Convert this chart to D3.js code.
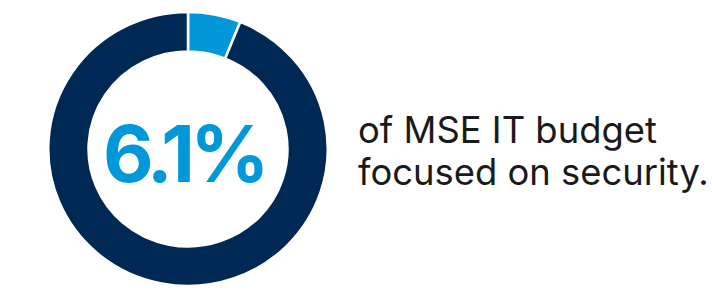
<!DOCTYPE html>
<html>
<head>
<meta charset="utf-8">
<script src="https://cdn.jsdelivr.net/npm/d3@7"></script>
<style>
html,body{margin:0;padding:0;background:#fff;}
svg{display:block;}
</style>
</head>
<body>
<svg id="chart" width="712" height="300"></svg>
<script>
const categories = ["Security", "Other IT budget"];
const values = [6.1, 93.9];
const colors = ["#0098D8", "#002855"];
const centerLabel = "6.1%";
const captionLines = ["of MSE IT budget", "focused on security."];

const svg = d3.select("#chart");
const cx = 188, cy = 149;
const outerR = 137, innerR = 97.5;

const g = svg.append("g").attr("transform", `translate(${cx},${cy}) scale(1.02,1)`);
const pie = d3.pie().sort(null).value(d => d);
const arc = d3.arc().innerRadius(innerR).outerRadius(outerR);
const color = d3.scaleOrdinal().domain(categories).range(colors);

g.selectAll("path").data(pie(values)).join("path")
  .attr("d", arc)
  .attr("fill", (d, i) => color(categories[i]))
  .attr("stroke", "#fff")
  .attr("stroke-width", 2.5);

const big = svg.append("text")
  .attr("x", 184).attr("y", 182)
  .attr("text-anchor", "middle")
  .attr("font-family", "Inter, Roboto, sans-serif")
  .attr("font-weight", 700)
  .attr("font-size", 78)
  .attr("letter-spacing", -4.5)
  .attr("fill", "#0098D8")
  .text(centerLabel);

const cap = svg.append("text")
  .attr("font-family", "Inter, Roboto, sans-serif")
  .attr("font-size", 36.4)
  .attr("fill", "#1a1a1a");
cap.selectAll("tspan").data(captionLines).join("tspan")
  .attr("x", 358)
  .attr("y", (d, i) => 143 + i * 42)
  .text(d => d);
</script>
</body>
</html>
